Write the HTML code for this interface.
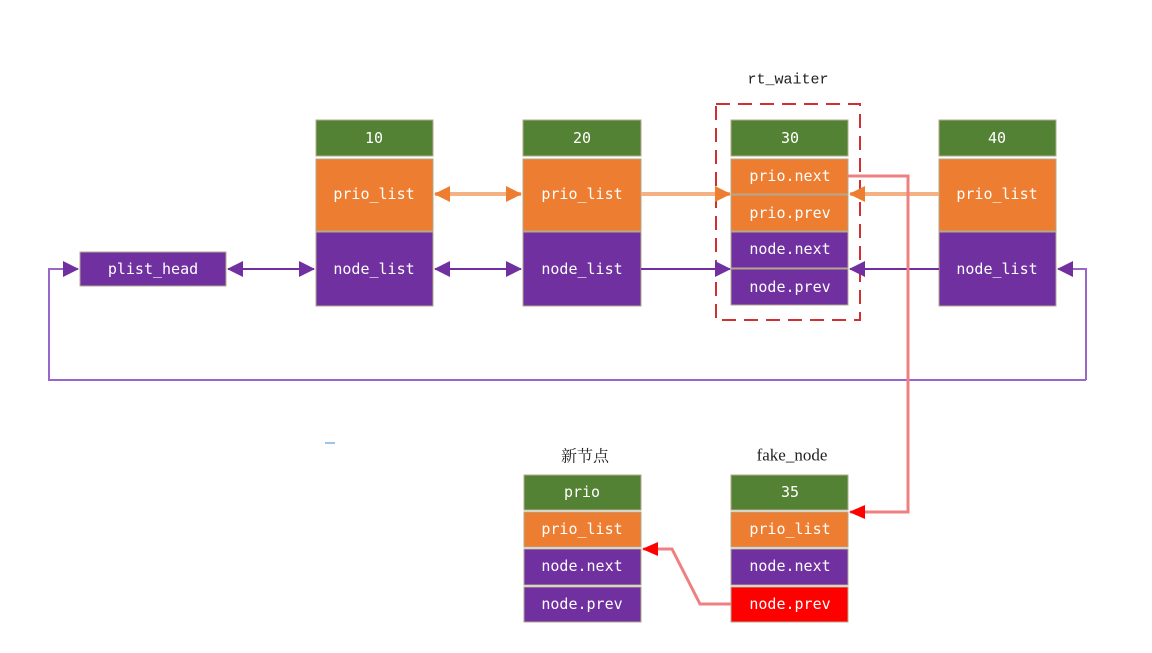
<!DOCTYPE html>
<html><head><meta charset="utf-8"><style>
html,body{margin:0;padding:0;background:#fff;}
svg text{font-family:"DejaVu Sans Mono","Liberation Mono",monospace;font-size:15px;fill:#fff;text-anchor:middle;dominant-baseline:central;}
</style></head><body>
<svg width="1152" height="648" viewBox="0 0 1152 648" xmlns="http://www.w3.org/2000/svg">
<defs>
<marker id="ao" markerWidth="16" markerHeight="16" refX="15" refY="8" orient="auto" markerUnits="userSpaceOnUse"><path d="M0,0 L16,8 L0,16 Z" fill="#ed7d31"/></marker>
<marker id="aos" markerWidth="16" markerHeight="16" refX="1" refY="8" orient="auto" markerUnits="userSpaceOnUse"><path d="M16,0 L0,8 L16,16 Z" fill="#ed7d31"/></marker>
<marker id="ap" markerWidth="16" markerHeight="16" refX="15" refY="8" orient="auto" markerUnits="userSpaceOnUse"><path d="M0,0 L16,8 L0,16 Z" fill="#7030a0"/></marker>
<marker id="aps" markerWidth="16" markerHeight="16" refX="1" refY="8" orient="auto" markerUnits="userSpaceOnUse"><path d="M16,0 L0,8 L16,16 Z" fill="#7030a0"/></marker>
<marker id="ar" markerWidth="16" markerHeight="14" refX="15" refY="7" orient="auto" markerUnits="userSpaceOnUse"><path d="M0,0 L16,7 L0,14 Z" fill="#ff0000"/></marker>
</defs>
<g stroke="#b4a98e" stroke-width="1">
<rect x="316" y="120" width="117" height="36" fill="#548235"/>
<rect x="316" y="159" width="117" height="72" fill="#ed7d31"/>
<rect x="316" y="232" width="117" height="74" fill="#7030a0"/>
<rect x="523" y="120" width="118" height="36" fill="#548235"/>
<rect x="523" y="159" width="118" height="72" fill="#ed7d31"/>
<rect x="523" y="232" width="118" height="74" fill="#7030a0"/>
<rect x="731" y="120" width="117" height="36" fill="#548235"/>
<rect x="731" y="159" width="117" height="35" fill="#ed7d31"/>
<rect x="731" y="195" width="117" height="36" fill="#ed7d31"/>
<rect x="731" y="232" width="117" height="36" fill="#7030a0"/>
<rect x="731" y="269" width="117" height="36" fill="#7030a0"/>
<rect x="939" y="120" width="117" height="36" fill="#548235"/>
<rect x="939" y="159" width="117" height="72" fill="#ed7d31"/>
<rect x="939" y="232" width="117" height="74" fill="#7030a0"/>
<rect x="80" y="252" width="146" height="34" fill="#7030a0"/>
<rect x="524" y="475" width="117" height="35" fill="#548235"/>
<rect x="524" y="512" width="117" height="35" fill="#ed7d31"/>
<rect x="524" y="549" width="117" height="36" fill="#7030a0"/>
<rect x="524" y="587" width="117" height="35" fill="#7030a0"/>
<rect x="731" y="475" width="117" height="35" fill="#548235"/>
<rect x="731" y="512" width="117" height="35" fill="#ed7d31"/>
<rect x="731" y="549" width="117" height="36" fill="#7030a0"/>
<rect x="731" y="587" width="117" height="35" fill="#ff0000"/>
</g>
<rect x="716" y="104" width="144" height="216" fill="none" stroke="#d03030" stroke-width="2" stroke-dasharray="14,8"/>
<text x="374" y="138">10</text><text x="374" y="194">prio_list</text><text x="374" y="269">node_list</text>
<text x="582" y="138">20</text><text x="582" y="194">prio_list</text><text x="582" y="269">node_list</text>
<text x="790" y="138">30</text><text x="790" y="176">prio.next</text><text x="790" y="213">prio.prev</text><text x="790" y="249">node.next</text><text x="790" y="287">node.prev</text>
<text x="997" y="138">40</text><text x="997" y="194">prio_list</text><text x="997" y="269">node_list</text>
<text x="153" y="269">plist_head</text>
<text x="582" y="492">prio</text><text x="582" y="529">prio_list</text><text x="582" y="566">node.next</text><text x="582" y="604">node.prev</text>
<text x="790" y="492">35</text><text x="790" y="529">prio_list</text><text x="790" y="566">node.next</text><text x="790" y="604">node.prev</text>
<text x="788" y="80" style="fill:#222;font-family:'Liberation Mono',monospace;font-size:15px">rt_waiter</text>
<text x="585" y="455" style="fill:#222;font-family:'Noto Serif CJK SC',serif;font-size:16px">新节点</text>
<text x="792" y="455" style="fill:#222;font-family:'Liberation Serif',serif;font-size:17px">fake_node</text>
<line x1="435" y1="194" x2="521" y2="194" stroke="#f4b183" stroke-width="4" marker-start="url(#aos)" marker-end="url(#ao)"/>
<line x1="641" y1="194" x2="730" y2="194" stroke="#f4b183" stroke-width="4" marker-end="url(#ao)"/>
<line x1="939" y1="194" x2="850" y2="194" stroke="#f4b183" stroke-width="4" marker-end="url(#ao)"/>
<line x1="228" y1="269" x2="314" y2="269" stroke="#7030a0" stroke-width="2" marker-start="url(#aps)" marker-end="url(#ap)"/>
<line x1="435" y1="269" x2="521" y2="269" stroke="#7030a0" stroke-width="2" marker-start="url(#aps)" marker-end="url(#ap)"/>
<line x1="641" y1="269" x2="730" y2="269" stroke="#7030a0" stroke-width="2" marker-end="url(#ap)"/>
<line x1="939" y1="269" x2="850" y2="269" stroke="#7030a0" stroke-width="2" marker-end="url(#ap)"/>
<polyline points="1086,380 1086,269 1058,269" fill="none" stroke="#9966cc" stroke-width="2" marker-end="url(#ap)"/>
<polyline points="1086,380 49,380 49,269 78,269" fill="none" stroke="#9966cc" stroke-width="2" marker-end="url(#ap)"/>
<polyline points="848,176 908,176 908,512 850,512" fill="none" stroke="#f08080" stroke-width="3" marker-end="url(#ar)"/>
<polyline points="731,604 700,604 672,549 643,549" fill="none" stroke="#f08080" stroke-width="3" marker-end="url(#ar)"/>
<line x1="325" y1="443" x2="335" y2="443" stroke="#9dc3e6" stroke-width="2"/>
</svg>
</body></html>
